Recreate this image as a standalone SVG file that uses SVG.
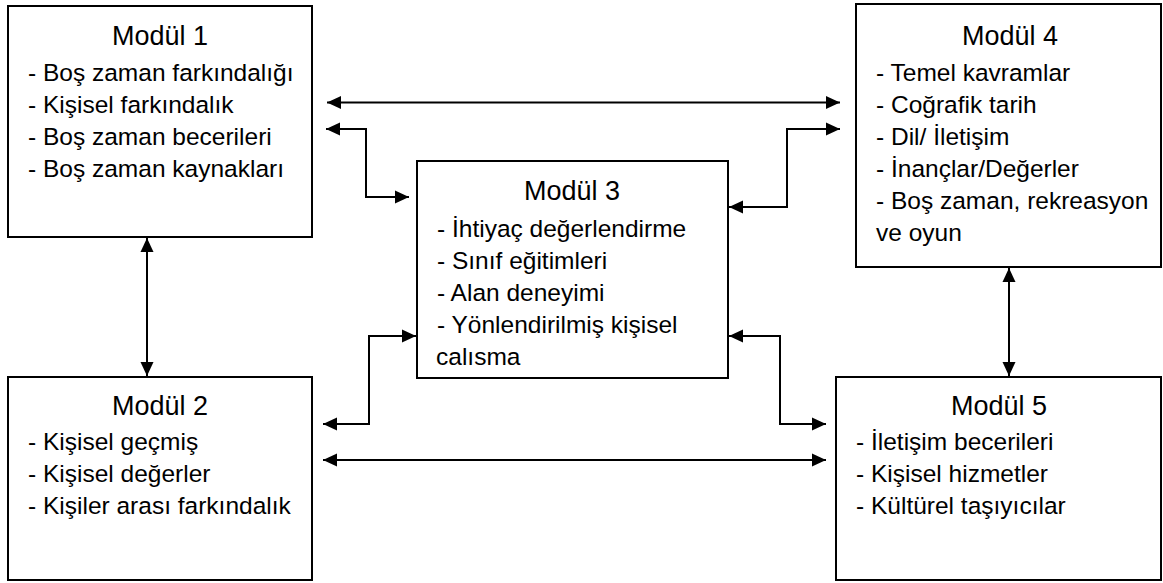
<svg xmlns="http://www.w3.org/2000/svg" width="1163" height="583" viewBox="0 0 1163 583">
<style>
.box{fill:#fff;stroke:#000;stroke-width:2}
.t{font-family:"Liberation Sans",Arial,sans-serif;font-size:24.5px;fill:#000}
.h{text-anchor:middle;font-size:27px}
.c{fill:none;stroke:#000;stroke-width:2}
</style>
<defs>
<marker id="a" viewBox="0 0 14 14" refX="14" refY="7" markerWidth="14" markerHeight="14" markerUnits="userSpaceOnUse" orient="auto-start-reverse">
<path d="M0,0.5 L14,7 L0,13.5 Z" fill="#000"/>
</marker>
</defs>
<rect width="1163" height="583" fill="#fff"/>
<g id="connectors">
<path class="c" d="M327,102.5 H840" marker-start="url(#a)" marker-end="url(#a)"/>
<path class="c" d="M326,129 H366 V197 H409" marker-start="url(#a)" marker-end="url(#a)"/>
<path class="c" d="M840,129 H787 V207 H729" marker-start="url(#a)" marker-end="url(#a)"/>
<path class="c" d="M147,238 V376" marker-start="url(#a)" marker-end="url(#a)"/>
<path class="c" d="M1009,268 V376" marker-start="url(#a)" marker-end="url(#a)"/>
<path class="c" d="M323,424 H369 V336 H416" marker-start="url(#a)" marker-end="url(#a)"/>
<path class="c" d="M729,336 H780 V424 H826" marker-start="url(#a)" marker-end="url(#a)"/>
<path class="c" d="M323,460 H826" marker-start="url(#a)" marker-end="url(#a)"/>
</g>
<g id="modul1">
<rect class="box" x="8" y="6" width="304" height="231"/>
<text class="t h" x="160" y="45">Modül 1</text>
<text class="t" x="28" y="81">- Boş zaman farkındalığı</text>
<text class="t" x="28" y="113">- Kişisel farkındalık</text>
<text class="t" x="28" y="145">- Boş zaman becerileri</text>
<text class="t" x="28" y="177">- Boş zaman kaynakları</text>
</g>
<g id="modul4">
<rect class="box" x="856" y="4" width="305" height="263"/>
<text class="t h" x="1010" y="45">Modül 4</text>
<text class="t" x="876" y="81">- Temel kavramlar</text>
<text class="t" x="876" y="113">- Coğrafik tarih</text>
<text class="t" x="876" y="145">- Dil/ İletişim</text>
<text class="t" x="876" y="177">- İnançlar/Değerler</text>
<text class="t" x="876" y="209">- Boş zaman, rekreasyon</text>
<text class="t" x="876" y="241">ve oyun</text>
</g>
<g id="modul3">
<rect class="box" x="417" y="161" width="311" height="217"/>
<text class="t h" x="572" y="200">Modül 3</text>
<text class="t" x="437" y="237">- İhtiyaç değerlendirme</text>
<text class="t" x="437" y="269">- Sınıf eğitimleri</text>
<text class="t" x="437" y="301">- Alan deneyimi</text>
<text class="t" x="437" y="333">- Yönlendirilmiş kişisel</text>
<text class="t" x="436" y="365">calısma</text>
</g>
<g id="modul2">
<rect class="box" x="8" y="377" width="304" height="203"/>
<text class="t h" x="160" y="415">Modül 2</text>
<text class="t" x="28" y="450">- Kişisel geçmiş</text>
<text class="t" x="28" y="482">- Kişisel değerler</text>
<text class="t" x="28" y="514">- Kişiler arası farkındalık</text>
</g>
<g id="modul5">
<rect class="box" x="836" y="377" width="325" height="203"/>
<text class="t h" x="999" y="415">Modül 5</text>
<text class="t" x="856" y="450">- İletişim becerileri</text>
<text class="t" x="856" y="482">- Kişisel hizmetler</text>
<text class="t" x="856" y="514">- Kültürel taşıyıcılar</text>
</g>
</svg>
